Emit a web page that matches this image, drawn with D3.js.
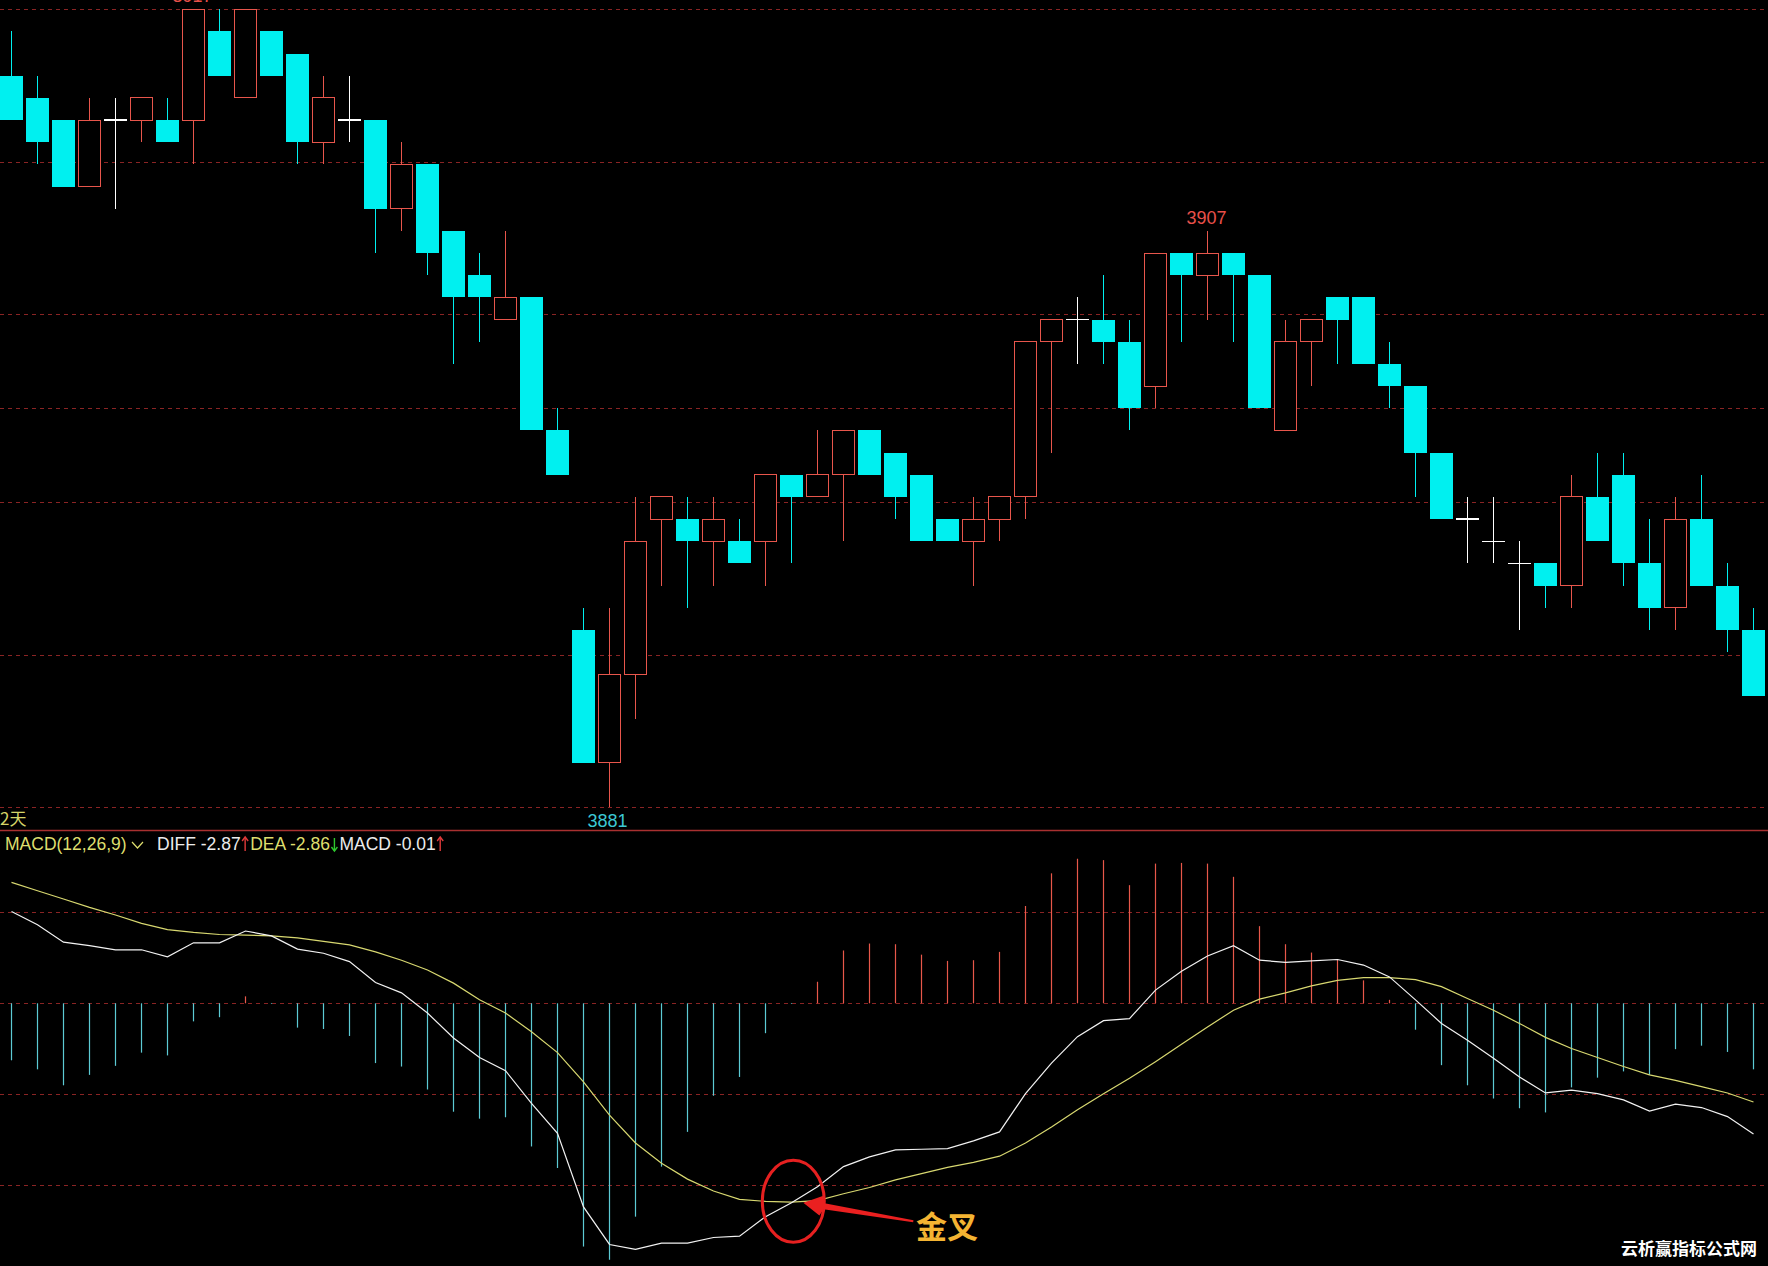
<!DOCTYPE html>
<html><head><meta charset="utf-8">
<script src="https://cdn.jsdelivr.net/npm/d3@7"></script>
<style>html,body{margin:0;padding:0;background:#000;overflow:hidden}</style>
</head><body>
<svg id="c" width="1768" height="1266"></svg>
<script>
// ---------- DATA ----------
const opens = [3914,3913,3912,3909,3912,3912,3912,3912,3916,3913,
  3916,3915,3911,3912,3912,3908,3910,3907,3905,3903,
  3904,3898,3889,3883,3887,3894,3894,3893,3893,3893,
  3896,3895,3896,3898,3897,3896,3894,3893,3894,3895,
  3902,3903,3903,3902,3900,3906,3905,3906,3905,3898,
  3902,3904,3904,3901,3900,3897,3894,3893,3892,3892,
  3891,3895,3896,3892,3890,3894,3891,3889];
const highs = [3916,3914,3912,3913,3913,3913,3913,3917,3917,3917,
  3916,3915,3914,3914,3912,3911,3910,3907,3906,3907,
  3904,3899,3890,3890,3895,3895,3895,3895,3894,3896,
  3896,3898,3898,3898,3897,3896,3894,3895,3895,3902,
  3903,3904,3905,3903,3906,3906,3907,3906,3905,3903,
  3903,3904,3904,3902,3900,3897,3895,3895,3893,3892,
  3896,3897,3897,3894,3895,3896,3892,3890];
const lows = [3912,3910,3909,3909,3908,3911,3911,3910,3914,3913,
  3914,3910,3910,3911,3906,3907,3905,3901,3902,3903,
  3898,3896,3883,3881,3885,3891,3890,3891,3892,3891,
  3892,3895,3893,3896,3894,3893,3893,3891,3893,3894,
  3897,3901,3901,3898,3899,3902,3903,3902,3899,3898,
  3900,3901,3901,3899,3895,3894,3892,3892,3889,3890,
  3890,3893,3891,3889,3889,3891,3888,3886];
const closes = [3912,3911,3909,3912,3912,3913,3911,3917,3914,3917,
  3914,3911,3913,3912,3908,3910,3906,3904,3904,3904,
  3898,3896,3883,3887,3893,3895,3893,3894,3892,3896,
  3895,3896,3898,3896,3895,3893,3893,3894,3895,3902,
  3903,3903,3902,3899,3906,3905,3906,3905,3899,3902,
  3903,3903,3901,3900,3897,3894,3894,3893,3892,3891,
  3895,3893,3892,3890,3894,3891,3889,3886];

const diff = [1.32,1.13,0.88,0.83,0.77,0.77,0.67,0.87,0.87,1.04,
  0.97,0.78,0.72,0.60,0.30,0.15,-0.14,-0.50,-0.78,-0.97,
  -1.44,-1.87,-2.93,-3.47,-3.54,-3.45,-3.45,-3.37,-3.35,-3.07,
  -2.87,-2.64,-2.35,-2.21,-2.11,-2.10,-2.09,-1.98,-1.85,-1.30,
  -0.86,-0.48,-0.25,-0.22,0.19,0.46,0.68,0.83,0.62,0.59,
  0.61,0.63,0.55,0.38,0.05,-0.29,-0.53,-0.79,-1.06,-1.29,
  -1.25,-1.30,-1.39,-1.55,-1.45,-1.50,-1.63,-1.88];
const dea = [1.74,1.62,1.50,1.38,1.27,1.15,1.06,1.02,0.99,0.98,
  0.97,0.94,0.89,0.84,0.74,0.62,0.48,0.29,0.05,-0.14,
  -0.41,-0.71,-1.13,-1.61,-2.01,-2.30,-2.53,-2.70,-2.82,-2.85,
  -2.86,-2.84,-2.74,-2.65,-2.54,-2.45,-2.36,-2.29,-2.20,-2.01,
  -1.78,-1.53,-1.30,-1.08,-0.84,-0.59,-0.34,-0.10,0.06,0.15,
  0.25,0.33,0.37,0.37,0.34,0.24,0.07,-0.10,-0.29,-0.49,
  -0.65,-0.78,-0.91,-1.03,-1.11,-1.20,-1.29,-1.42];
const macd = [-0.82,-0.95,-1.18,-1.03,-0.90,-0.71,-0.75,-0.26,-0.20,0.10,
  -0.01,-0.35,-0.37,-0.47,-0.86,-0.91,-1.24,-1.56,-1.66,-1.64,
  -2.06,-2.37,-3.50,-3.69,-3.07,-2.35,-1.85,-1.33,-1.06,-0.43,
  -0.01,0.31,0.76,0.86,0.85,0.70,0.61,0.62,0.74,1.40,
  1.87,2.08,2.06,1.70,2.01,2.02,2.01,1.82,1.11,0.85,
  0.73,0.63,0.33,0.05,-0.38,-0.89,-1.18,-1.37,-1.51,-1.57,
  -1.21,-1.07,-0.98,-1.03,-0.66,-0.61,-0.70,-0.95];

const priceGridFractions = [0, 0.191, 0.382, 0.5, 0.618, 0.809, 1];
const macdGridLevels = [1.32, 0, -1.31, -2.62];
const highLabelIdx = [7, 46];
const lowLabelIdx = [23];
const legendIdx = 30;      // bar shown in the legend (golden cross)
const crossIdx = 30;       // 金叉 annotation
const periodText = "2天";
const macdTitle = "MACD(12,26,9)";
const annotText = "金叉";
const watermark = "云析赢指标公式网";

// ---------- DRAW ----------
const W = 1768, H = 1266;
const svg = d3.select('#c');
svg.append('rect').attr('width', W).attr('height', H).attr('fill', '#000');

const n = opens.length;
const x = d3.scaleLinear().domain([0, n - 1]).range([11.5, 11.5 + 26 * (n - 1)]);
const pMin = d3.min(lows), pMax = d3.max(highs);
const y = d3.scaleLinear().domain([pMin, pMax]).range([807.3, 9.3]);
const zeroY = 1003.3, unit = 69.5;
const yM = d3.scaleLinear().domain([-4, 2]).range([zeroY + 4 * unit, zeroY - 2 * unit]);

const RED = '#e8564c', CYAN = '#00f0f0', GRID = '#8a2424';
const FONT = "'Liberation Sans', Arial, sans-serif";

// grid lines (price panel)
svg.append('g').selectAll('line').data(priceGridFractions).join('line')
  .attr('x1', 0).attr('x2', W)
  .attr('y1', f => Math.round(y(pMax - f * (pMax - pMin))) + 0.5)
  .attr('y2', f => Math.round(y(pMax - f * (pMax - pMin))) + 0.5)
  .attr('stroke', GRID).attr('stroke-width', 1).attr('stroke-dasharray', '4,4');

// macd panel grid
svg.append('g').selectAll('line').data(macdGridLevels).join('line')
  .attr('x1', 0).attr('x2', W)
  .attr('y1', v => Math.round(yM(v)) + 0.5).attr('y2', v => Math.round(yM(v)) + 0.5)
  .attr('stroke', GRID).attr('stroke-width', 1).attr('stroke-dasharray', '4,4');

// separator
svg.append('line').attr('x1', 0).attr('x2', W).attr('y1', 830.5).attr('y2', 830.5)
  .attr('stroke', '#a83030').attr('stroke-width', 1.3);

// histogram
svg.append('g').selectAll('line').data(macd).join('line')
  .attr('x1', (d, i) => x(i)).attr('x2', (d, i) => x(i))
  .attr('y1', yM(0)).attr('y2', d => yM(d))
  .attr('stroke', d => d >= 0 ? '#e8584a' : '#5ccad4').attr('stroke-width', 1.2);

// DIFF & DEA lines
const line = d3.line().x((d, i) => x(i)).y(d => yM(d));
svg.append('path').datum(dea).attr('d', line).attr('fill', 'none')
  .attr('stroke', '#d8d870').attr('stroke-width', 1.2);
svg.append('path').datum(diff).attr('d', line).attr('fill', 'none')
  .attr('stroke', '#f2f2f2').attr('stroke-width', 1.2);

// candles
const cg = svg.append('g').attr('shape-rendering', 'crispEdges');
const bw = 23;
d3.range(n).forEach(i => {
  const o = opens[i], c = closes[i], h = highs[i], l = lows[i];
  const cx = x(i);
  if (c > o) {
    cg.append('line').attr('x1', cx).attr('x2', cx).attr('y1', y(h)).attr('y2', y(c)).attr('stroke', RED);
    cg.append('line').attr('x1', cx).attr('x2', cx).attr('y1', y(o)).attr('y2', y(l)).attr('stroke', RED);
    cg.append('rect').attr('x', cx - bw / 2 + 0.5).attr('y', y(c)).attr('width', bw - 1)
      .attr('height', y(o) - y(c)).attr('fill', '#000').attr('stroke', RED).attr('stroke-width', 1);
  } else if (c < o) {
    cg.append('line').attr('x1', cx).attr('x2', cx).attr('y1', y(h)).attr('y2', y(l)).attr('stroke', CYAN);
    cg.append('rect').attr('x', cx - bw / 2).attr('y', y(o)).attr('width', bw)
      .attr('height', y(c) - y(o)).attr('fill', CYAN);
  } else {
    cg.append('line').attr('x1', cx).attr('x2', cx).attr('y1', y(h)).attr('y2', y(l)).attr('stroke', '#fff');
    cg.append('line').attr('x1', cx - bw / 2).attr('x2', cx + bw / 2).attr('y1', y(c)).attr('y2', y(c))
      .attr('stroke', '#fff').attr('stroke-width', 1.5);
  }
});

// high / low labels
highLabelIdx.forEach(i => {
  svg.append('text').attr('x', x(i) - 1).attr('y', y(highs[i]) - 7)
    .attr('text-anchor', 'middle').attr('font-family', FONT).attr('font-size', 18)
    .attr('fill', '#e8504a').text(highs[i]);
});
lowLabelIdx.forEach(i => {
  svg.append('text').attr('x', x(i) - 2).attr('y', y(lows[i]) + 20)
    .attr('text-anchor', 'middle').attr('font-family', FONT).attr('font-size', 18)
    .attr('fill', '#3cc8d4').text(lows[i]);
});

// period text
svg.append('text').attr('x', 0).attr('y', 825).attr('font-family', "'Noto Sans CJK SC', sans-serif")
  .attr('font-size', 17).attr('fill', '#d4d468').text(periodText);

// legend (laid out left to right)
const LY = 850, YEL = '#dede6e';
const lg = svg.append('g').attr('font-family', FONT).attr('font-size', 17.5);
lg.append('text').attr('x', 5).attr('y', LY).attr('fill', YEL).text(macdTitle);
lg.append('path').attr('d', 'M132,842 L137.5,848 L143,842').attr('fill', 'none')
  .attr('stroke', YEL).attr('stroke-width', 1.2);
const fmt = v => v.toFixed(2);
let cursor = 157;
function addText(str, col) {
  const t = lg.append('text').attr('x', cursor).attr('y', LY).attr('fill', col).text(str);
  cursor += t.node().getComputedTextLength() + 1.5;
}
function addArrow(up, col) {
  const ax = cursor + 3;
  const top = LY - 13, bot = LY + 1;
  lg.append('line').attr('x1', ax).attr('x2', ax).attr('y1', top + 1).attr('y2', bot)
    .attr('stroke', col).attr('stroke-width', 1.4);
  const hy = up ? top : bot;
  const d = up ? 4 : -4;
  lg.append('path').attr('d', `M${ax - 3},${hy + d} L${ax},${hy} L${ax + 3},${hy + d}`)
    .attr('fill', 'none').attr('stroke', col).attr('stroke-width', 1.4);
  cursor += 8;
}
addText('DIFF ' + fmt(diff[legendIdx]), '#ececec');
addArrow(diff[legendIdx] > diff[legendIdx - 1], '#e03a3a');
addText('DEA ' + fmt(dea[legendIdx]), YEL);
addArrow(dea[legendIdx] > dea[legendIdx - 1], '#2ec82e');
addText('MACD ' + fmt(macd[legendIdx]), '#ececec');
addArrow(macd[legendIdx] > macd[legendIdx - 1], '#e03a3a');

// golden-cross annotation
const ccx = x(crossIdx) + 1.8, ccy = yM(diff[crossIdx]) - 1.5;
svg.append('ellipse').attr('cx', ccx).attr('cy', ccy).attr('rx', 31).attr('ry', 41)
  .attr('fill', 'none').attr('stroke', '#e62020').attr('stroke-width', 3);
const tip = [ccx + 10, ccy + 1.5], tail = [ccx + 120, ccy + 20];
const dx = tail[0] - tip[0], dy = tail[1] - tip[1], L = Math.hypot(dx, dy);
const ux = dx / L, uy = dy / L, nx = -uy, ny = ux;
const bx = tip[0] + ux * 18, by = tip[1] + uy * 18;
const pts = [
  tip,
  [bx + nx * 10, by + ny * 10],
  [bx + ux * 3 + nx * 3, by + uy * 3 + ny * 3],
  [tail[0] + nx * 1, tail[1] + ny * 1],
  [tail[0] - nx * 1, tail[1] - ny * 1],
  [bx + ux * 3 - nx * 3, by + uy * 3 - ny * 3],
  [bx - nx * 10, by - ny * 10]
];
svg.append('path').attr('d', 'M' + pts.map(p => p.join(',')).join('L') + 'Z').attr('fill', '#ea2020');
svg.append('text').attr('x', 916).attr('y', 1238).attr('font-family', "'Noto Sans CJK SC', sans-serif")
  .attr('font-weight', 'bold').attr('font-size', 31).attr('fill', '#f4b432').text(annotText);

// watermark
svg.append('text').attr('x', 1621).attr('y', 1255).attr('font-family', "'Noto Sans CJK SC', sans-serif")
  .attr('font-weight', 'bold').attr('font-size', 17).attr('fill', '#ffffff').text(watermark);
</script>
</body></html>
